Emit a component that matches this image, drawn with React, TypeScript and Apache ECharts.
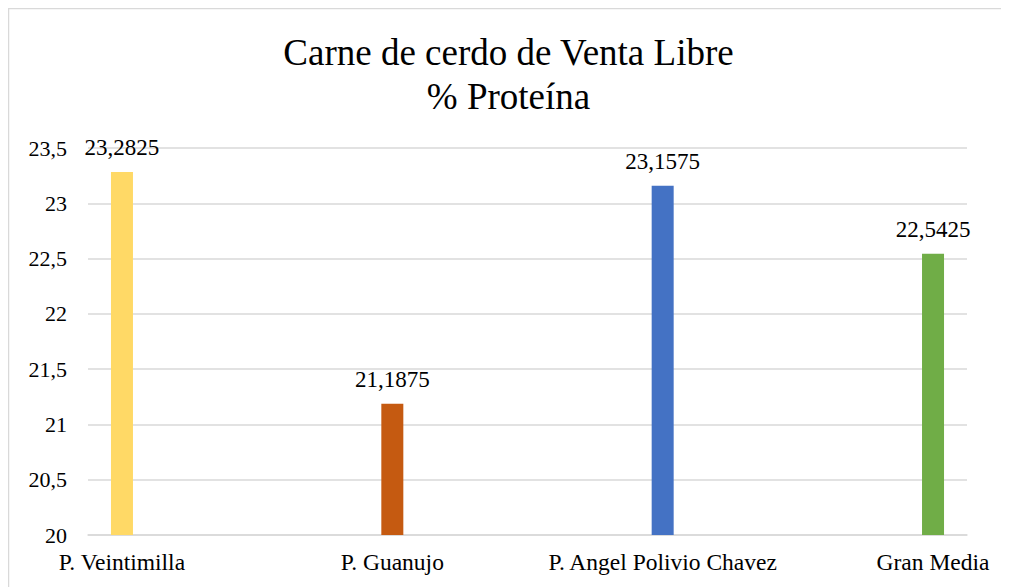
import React, { useEffect, useRef } from "react";
import * as echarts from "echarts";

const categories = ["P. Veintimilla", "P. Guanujo", "P. Angel Polivio Chavez", "Gran Media"];
const seriesNames = ["P. Veintimilla", "P. Guanujo", "P. Angel Polivio Chavez", "Gran Media"];
const values = [23.2825, 21.1875, 23.1575, 22.5425];
const colors = ["#FFD966", "#C55A11", "#4472C4", "#70AD47"];
const yTicks = { min: 20, max: 23.5, interval: 0.5 };

const FONT = "Liberation Serif";
const BAR_W = 22;
const GAP = 1.3;

export default function App() {
  const ref = useRef<HTMLDivElement>(null);
  useEffect(() => {
    if (!ref.current) return;
    const chart = echarts.init(ref.current, null, { renderer: "svg" });
    const n = seriesNames.length;
    const gapPx = BAR_W * GAP;
    const total = n * BAR_W + (n - 1) * gapPx;
    const offsets = seriesNames.map((_, i) => -total / 2 + BAR_W / 2 + i * (BAR_W + gapPx));
    const rich: Record<string, any> = {};
    offsets.forEach((d, i) => {
      rich["c" + i] = {
        fontFamily: FONT,
        fontSize: 23.5,
        color: "#000",
        padding: d < 0 ? [0, -2 * d, 0, 0] : [0, 0, 0, 2 * d],
      };
    });
    const series = seriesNames.map((name, i) => ({
      name,
      type: "bar",
      barWidth: BAR_W,
      barGap: GAP * 100 + "%",
      data: categories.map((_, j) => (j === i ? values[i] : null)),
      itemStyle: { color: colors[i] },
      label: {
        show: true,
        position: "top",
        distance: 13,
        fontFamily: FONT,
        fontSize: 23,
        color: "#000",
        formatter: (p: any) => String(p.value).replace(".", ","),
      },
    }));
    chart.setOption({
      animation: false,
      textStyle: { fontFamily: FONT },
      title: {
        text: "Carne de cerdo de Venta Libre\n% Proteína",
        left: "center",
        top: 17,
        textStyle: { fontFamily: FONT, fontSize: 37, fontWeight: "normal", color: "#000", lineHeight: 44 },
      },
      graphic: [
        {
          type: "rect",
          shape: { x: 0.5, y: 0.5, width: 1100, height: 1000 },
          style: { fill: "none", stroke: "#d9d9d9", lineWidth: 1.5 },
          silent: true,
        },
      ],
      grid: { left: 80, right: 42, top: 140, bottom: 52 },
      xAxis: {
        type: "category",
        data: categories,
        axisLine: { lineStyle: { color: "#d9d9d9", width: 1.5 } },
        axisTick: { show: false },
        axisLabel: {
          margin: 15,
          interval: 0,
          formatter: (v: string, i: number) => `{c${i}|${v}}`,
          rich,
        },
      },
      yAxis: {
        type: "value",
        min: yTicks.min,
        max: yTicks.max,
        interval: yTicks.interval,
        axisLine: { show: false },
        axisTick: { show: false },
        splitLine: { lineStyle: { color: "#d9d9d9", width: 1.5 } },
        axisLabel: {
          margin: 21,
          fontFamily: FONT,
          fontSize: 22,
          color: "#000",
          formatter: (v: number) => String(v).replace(".", ","),
        },
      },
      series,
    });
    return () => chart.dispose();
  }, []);
  return <div ref={ref} style={{ width: 1001, height: 579 }} />;
}
